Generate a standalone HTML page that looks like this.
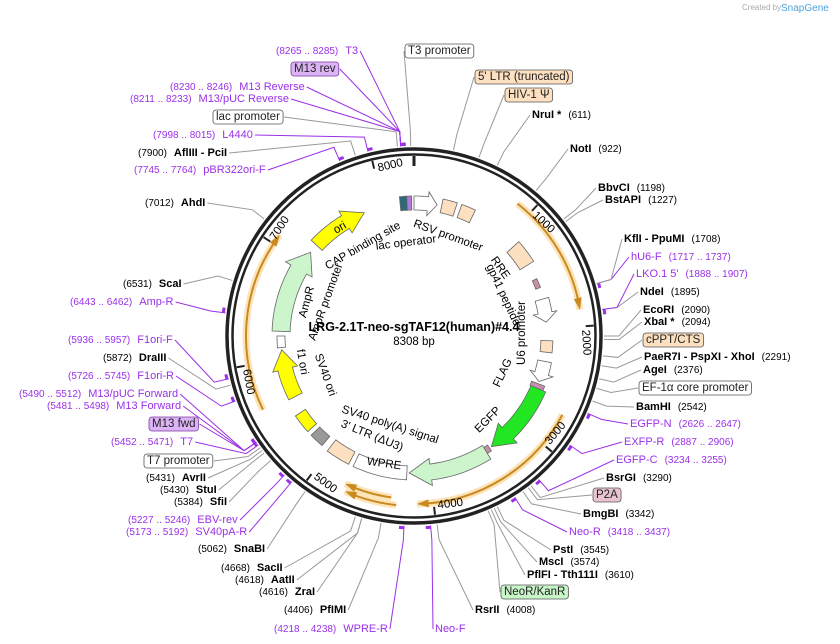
<!DOCTYPE html>
<html><head><meta charset="utf-8">
<style>
html,body{margin:0;padding:0;background:#fff;}
svg{display:block;font-family:"Liberation Sans","DejaVu Sans",sans-serif;}
.p{fill:#9b30e8;font-size:11px;}
.pn{fill:#9b30e8;font-size:10px;}
.n{fill:#000;font-size:10px;}
.b{fill:#000;font-size:11px;font-weight:bold;}
.f{font-size:11.5px;fill:#222;}
</style></head>
<body>
<svg id="s" width="840" height="644" viewBox="0 0 840 644" xmlns="http://www.w3.org/2000/svg">
<text x="742" y="10" font-size="8" fill="#aaa">Created by</text>
<text x="781" y="11" font-size="10" fill="#4aa3df">SnapGene</text>
<g id="lines"></g>
<g id="arcs"></g>
<circle cx="414" cy="336" r="187" fill="none" stroke="#222" stroke-width="3.5"/>
<circle cx="414" cy="336" r="181.5" fill="none" stroke="#222" stroke-width="2.5"/>
<g id="feat"></g>
<g id="lab"></g>
<text x="414" y="331" text-anchor="middle" font-size="12.5" font-weight="bold">LRG-2.1T-neo-sgTAF12(human)#4.4</text>
<text x="414" y="345" text-anchor="middle" font-size="11.5">8308 bp</text>
</svg>
<script>
var NS="http://www.w3.org/2000/svg",cx=414,cy=336;
function el(t,a,p){var e=document.createElementNS(NS,t);for(var k in a)e.setAttribute(k,a[k]);(p||document.getElementById('s')).appendChild(e);return e;}
function pt(a,r){var t=a*Math.PI/180;return [cx+r*Math.sin(t),cy-r*Math.cos(t)];}
var L=document.getElementById('lab'),LN=document.getElementById('lines'),AR=document.getElementById('arcs'),F=document.getElementById('feat');
var labs=[
[276,54,[["(8265 .. 8285)","pn"],["  T3","p"]],-4,"L","p"],
[294,72,[["M13 rev","f"]],-4,"L","p","#dcb4f5"],
[170,90,[["(8230 .. 8246)","pn"],["  M13 Reverse","p"]],-4,"L","p"],
[130,102,[["(8211 .. 8233)","pn"],["  M13/pUC Reverse","p"]],-4,"L","p"],
[216,120,[["lac promoter","f"]],-5,"L","g","#fff"],
[153,138,[["(7998 .. 8015)","pn"],["  L4440","p"]],-14,"L","p"],
[138,156,[["(7900)","n"],["  AflIII  - PciI","b"]],-18,"L","g"],
[134,173,[["(7745 .. 7764)","pn"],["  pBR322ori-F","p"]],-23,"L","p"],
[145,206,[["(7012)","n"],["  AhdI","b"]],-52,"L","g"],
[123,287,[["(6531)","n"],["  ScaI","b"]],-73,"L","g"],
[70,305,[["(6443 .. 6462)","pn"],["  Amp-R","p"]],-83,"L","p"],
[68,343,[["(5936 .. 5957)","pn"],["  F1ori-F","p"]],-103,"L","p"],
[103,361,[["(5872)","n"],["  DraIII","b"]],-105,"L","g"],
[68,379,[["(5726 .. 5745)","pn"],["  F1ori-R","p"]],-110,"L","p"],
[19,397,[["(5490 .. 5512)","pn"],["  M13/pUC Forward","p"]],-124,"L","p"],
[47,409,[["(5481 .. 5498)","pn"],["  M13 Forward","p"]],-124,"L","p"],
[152,427,[["M13 fwd","f"]],-124,"L","p","#dcb4f5"],
[111,445,[["(5452 .. 5471)","pn"],["  T7","p"]],-125,"L","p"],
[147,464,[["T7 promoter","f"]],-126,"L","g","#fff"],
[146,481,[["(5431)","n"],["  AvrII","b"]],-127,"L","g"],
[160,493,[["(5430)","n"],["  StuI","b"]],-128,"L","g"],
[174,505,[["(5384)","n"],["  SfiI","b"]],-131,"L","g"],
[128,523,[["(5227 .. 5246)","pn"],["  EBV-rev","p"]],-137,"L","p"],
[126,535,[["(5173 .. 5192)","pn"],["  SV40pA-R","p"]],-140,"L","p"],
[198,552,[["(5062)","n"],["  SnaBI","b"]],-145,"L","g"],
[221,571,[["(4668)","n"],["  SacII","b"]],-162,"L","g"],
[235,583,[["(4618)","n"],["  AatII","b"]],-164,"L","g"],
[259,595,[["(4616)","n"],["  ZraI","b"]],-164,"L","g"],
[284,613,[["(4406)","n"],["  PfIMI","b"]],-170,"L","g"],
[274,632,[["(4218 .. 4238)","pn"],["  WPRE-R","p"]],-177,"L","p"],
[435,632,[["Neo-F","p"]],175,"R","p"],
[475,613,[["RsrII","b"],["  (4008)","n"]],173,"R","g"],
[504,595,[["NeoR/KanR","f"]],157,"R","g","#c8f5c8"],
[527,578,[["PflFI  - Tth111I","b"],["  (3610)","n"]],156,"R","g"],
[539,565,[["MscI","b"],["  (3574)","n"]],155,"R","g"],
[553,553,[["PstI","b"],["  (3545)","n"]],154,"R","g"],
[569,535,[["Neo-R","p"],["  (3418 .. 3437)","pn"]],148,"R","p"],
[583,517,[["BmgBI","b"],["  (3342)","n"]],145,"R","g"],
[596,498,[["P2A","f"]],143,"R","g","#e9c3d2"],
[606,481,[["BsrGI","b"],["  (3290)","n"]],142,"R","g"],
[616,463,[["EGFP-C","p"],["  (3234 .. 3255)","pn"]],139,"R","p"],
[624,445,[["EXFP-R","p"],["  (2887 .. 2906)","pn"]],125,"R","p"],
[630,427,[["EGFP-N","p"],["  (2626 .. 2647)","pn"]],114,"R","p"],
[636,410,[["BamHI","b"],["  (2542)","n"]],110,"R","g"],
[642,391,[["EF-1α core promoter","f"]],106,"R","g","#fff"],
[643,373,[["AgeI","b"],["  (2376)","n"]],103,"R","g"],
[644,360,[["PaeR7I  - PspXI  - XhoI","b"],["  (2291)","n"]],99,"R","g"],
[646,343,[["cPPT/CTS","f"]],96,"R","g","#fde0c0"],
[644,325,[["XbaI *","b"],["  (2094)","n"]],91,"R","g"],
[643,313,[["EcoRI","b"],["  (2090)","n"]],90,"R","g"],
[640,295,[["NdeI","b"],["  (1895)","n"]],82,"R","g"],
[636,277,[["LKO.1 5'","p"],["  (1888 .. 1907)","pn"]],82,"R","p"],
[631,260,[["hU6-F","p"],["  (1717 .. 1737)","pn"]],74,"R","p"],
[624,242,[["KflI  - PpuMI","b"],["  (1708)","n"]],74,"R","g"],
[605,203,[["BstAPI","b"],["  (1227)","n"]],53,"R","g"],
[598,191,[["BbvCI","b"],["  (1198)","n"]],52,"R","g"],
[570,152,[["NotI","b"],["  (922)","n"]],40,"R","g"],
[532,118,[["NruI *","b"],["  (611)","n"]],26,"R","g"],
[508,98,[["HIV-1 Ψ","f"]],20,"R","g","#fde0c0"],
[478,80,[["5' LTR (truncated)","f"]],12,"R","g","#fde0c0"],
[408,54,[["T3 promoter","f"]],-1,"R","g","#fff"]
];
labs.forEach(function(l){
  var t=el('text',{x:l[0],y:l[1]},L);
  l[2].forEach(function(p){var s=el('tspan',{'class':p[1]},t);var tx=p[0];if(tx.indexOf("  ")==0){tx=tx.slice(2);s.setAttribute('dx','7');}s.textContent=tx;});
  var bb=t.getBBox();
  if(l[6]){var r=el('rect',{x:bb.x-3,y:bb.y-1,width:bb.width+6,height:bb.height+2,rx:3,fill:l[6],stroke:l[5]=="p"?"#7a3aa0":"#555","stroke-width":0.8});L.insertBefore(r,t);}
  var ax=l[4]=="L"?bb.x+bb.width+(l[6]?4:2):bb.x-(l[6]?4:2), ay=bb.y+bb.height/2;
  var e=pt(l[3],190), m=pt(l[3],205);
  var col=l[5]=="p"?"#9b30e8":"#999";
  el('polyline',{points:ax+","+ay+" "+m[0]+","+m[1]+" "+e[0]+","+e[1],fill:"none",stroke:col,"stroke-width":1},LN);
  if(l[5]=="p"){var a=pt(l[3],192),b=pt(l[3]+1.5,192);el('line',{x1:a[0],y1:a[1],x2:b[0],y2:b[1],stroke:col,"stroke-width":3},LN);}
});
// ticks
[[0,""],[43.3,"1000"],[86.7,"2000"],[130,"3000"],[173.3,"4000"],[216.6,"5000"],[260,"6000"],[303.3,"7000"],[346.6,"8000"]].forEach(function(k){
  var a=pt(k[0],180),b=pt(k[0],k[0]==0?170:172);
  el('line',{x1:a[0],y1:a[1],x2:b[0],y2:b[1],stroke:"#222","stroke-width":k[0]==0?3:2});
  if(k[1]){var A=k[0];var rot=A<=90?A:(A<270?A-180:A-360);
    var off=(A>90&&A<270)?-5.5:5.5;
    var p=pt(A+off,172);
    var ta=el('text',{x:p[0],y:p[1],"font-size":11.5,"text-anchor":"middle","dominant-baseline":"middle",transform:"rotate("+rot+" "+p[0]+" "+p[1]+")"});ta.textContent=k[1];}
});
function arcPath(a1,a2,r){var p1=pt(a1,r),p2=pt(a2,r);var large=Math.abs(a2-a1)>180?1:0;var sw=a2>a1?1:0;return "M"+p1[0]+","+p1[1]+" A"+r+","+r+" 0 "+large+" "+sw+" "+p2[0]+","+p2[1];}
function oarc(a1,a2,r){
  el('path',{d:arcPath(a1,a2,r),fill:"none",stroke:"#fde3b8","stroke-width":7},AR);
  el('path',{d:arcPath(a1,a2-(a2>a1?1:-1),r),fill:"none",stroke:"#c98a20","stroke-width":2},AR);
  var tip=pt(a2,r),d=a2>a1?-4:4,b1=pt(a2+d,r-4),b2=pt(a2+d,r+4);
  el('polygon',{points:tip+" "+b1+" "+b2,fill:"#c98a20"},AR);
}
oarc(38,81,168);oarc(118,179,168);oarc(186,204,170);oarc(188,205,163);oarc(244,307,168);
function seg(a1,a2,r,w,fill,arrow,stroke){
  var ri=r-w/2,ro=r+w/2,pts=[];var dir=a2>a1?1:-1;var head=arrow?Math.min(9,Math.abs(a2-a1)*0.4)*dir:0;
  var n=20,aE=a2-head;
  for(var i=0;i<=n;i++){pts.push(pt(a1+(aE-a1)*i/n,ro));}
  if(arrow){pts.push(pt(aE,ro+w*0.35));pts.push(pt(a2,r));pts.push(pt(aE,ri-w*0.35));}
  for(var i=n;i>=0;i--){pts.push(pt(a1+(aE-a1)*i/n,ri));}
  el('polygon',{points:pts.map(function(p){return p[0].toFixed(1)+","+p[1].toFixed(1)}).join(" "),fill:fill,stroke:stroke||"#666","stroke-width":0.8},F);
}
seg(313,338,133,15,"#ffff00",1);
seg(-6,-3,133,14,"#2b6a7a",0);seg(-3,-1,133,14,"#b27ad8",0);
seg(0,10,133,14,"#fff",1);
seg(12,18,133,14,"#fde0c0",0);seg(20,26,133,14,"#fde0c0",0);
seg(48,58,133,16,"#fde0c0",0);
seg(65,69,133,5,"#c890a8",0);
seg(74,84,133,14,"#fff",1);
seg(92,97,133,12,"#fde0c0",0);
seg(101,110,133,14,"#fff",1);
seg(111,113,133,14,"#c890b0",0);
seg(113,145,135,16,"#22e622",1);
seg(146,149,135,7,"#c890a8",0);
seg(148,182,137,16,"#ccf5cc",1);
seg(183,205,137,14,"#fff",0);
seg(207,217,137,14,"#fde0c0",0);
seg(220,226,137,12,"#999",0);
seg(228,236,137,12,"#ffff00",0);
seg(243,264,133,15,"#ffff00",1);
seg(265,270,133,8,"#fff",0);
seg(272,309,133,18,"#ccf5cc",1);
[["ori",340,228,-30],["CAP binding site",363,246,-30],["lac operator",406,243,-7],["RSV promoter",448,236,20],["RRE",500,268,55],["gp41 peptide",503,295,65],["U6 promoter",522,333,-90],["FLAG",503,373,-65],["EGFP",488,420,-45],["SV40 poly(A) signal",390,425,18],["3' LTR (ΔU3)",372,436,22],["WPRE",384,464,8],["SV40 ori",325,375,70],["f1 ori",302,362,80],["AmpR promoter",326,302,-70],["AmpR",307,302,-75]].forEach(function(f){
  var t=el('text',{x:f[1],y:f[2],"font-size":11.5,"text-anchor":"middle","dominant-baseline":"middle",transform:"rotate("+f[3]+" "+f[1]+" "+f[2]+")"},F);t.textContent=f[0];});
</script>
</body></html>
